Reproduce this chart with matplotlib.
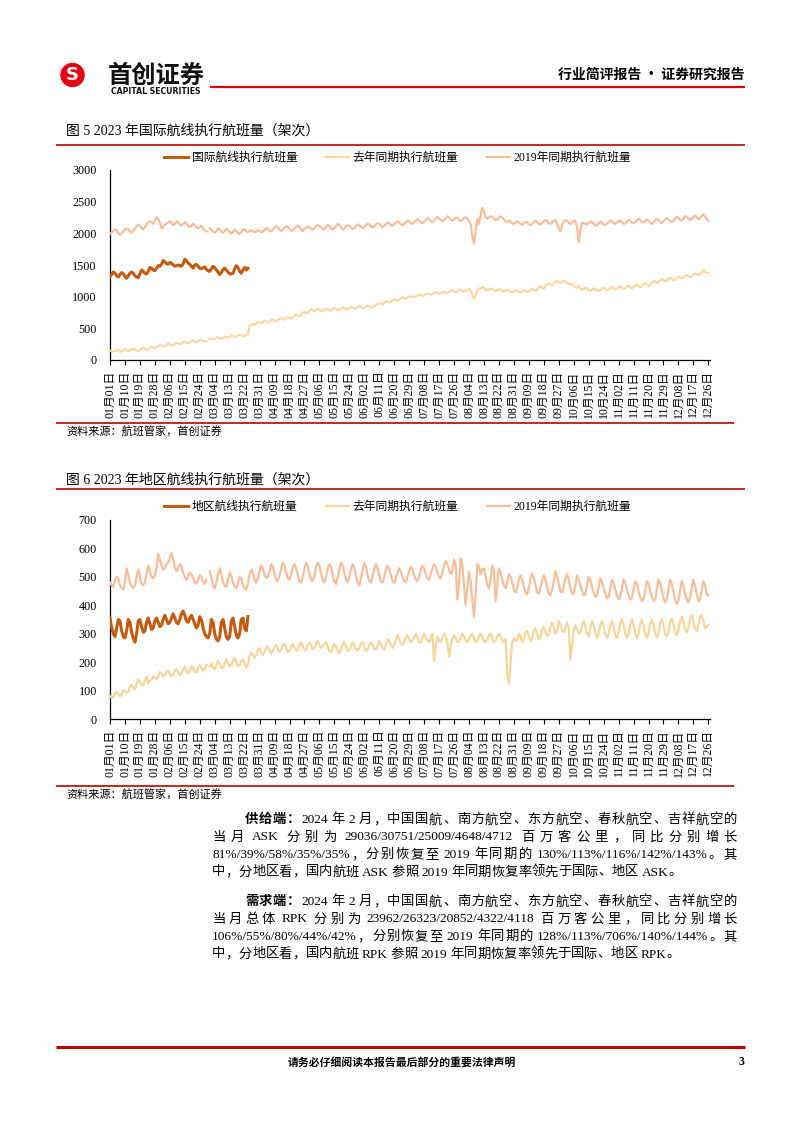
import numpy as np
import matplotlib
matplotlib.use("Agg")
import matplotlib.pyplot as plt
from matplotlib.lines import Line2D
from matplotlib.patches import Ellipse

nan = np.nan

# ---------------- DATA ----------------
TICK_LABELS = ['01月01日', '01月10日', '01月19日', '01月28日', '02月06日', '02月15日', '02月24日',
               '03月04日', '03月13日', '03月22日', '03月31日', '04月09日', '04月18日', '04月27日',
               '05月06日', '05月15日', '05月24日', '06月02日', '06月11日', '06月20日', '06月29日',
               '07月08日', '07月17日', '07月26日', '08月04日', '08月13日', '08月22日', '08月31日',
               '09月09日', '09月18日', '09月27日', '10月06日', '10月15日', '10月24日', '11月02日',
               '11月11日', '11月20日', '11月29日', '12月08日', '12月17日', '12月26日']
TICK_STEP_DAYS = 9

SERIES_NAMES_1 = ['国际航线执行航班量', '去年同期执行航班量', '2019年同期执行航班量']
SERIES_NAMES_2 = ['地区航线执行航班量', '去年同期执行航班量', '2019年同期执行航班量']

intl_current = [
    1320, 1350, 1390, 1370, 1330, 1310, 1350,
    1380, 1360, 1320, 1290, 1330, 1370, 1390,
    1370, 1330, 1310, 1300, 1360, 1420, 1400,
    1370, 1360, 1400, 1460, 1450, 1420, 1410,
    1450, 1490, 1480, 1510, 1570, 1550, 1520,
    1510, 1540, 1530, 1500, 1480, 1490, 1500,
    1490, 1480, 1520, 1590, 1570, 1530, 1510,
    1480, 1450, 1500, 1510, 1480, 1450, 1440,
    1460, 1470, 1430, 1410, 1400, 1440, 1480,
    1460, 1420, 1390, 1350, 1380, 1430, 1450,
    1420, 1390, 1360, 1360, 1370, 1440, 1490,
    1460, 1400, 1370, 1420, 1460, 1420, 1450]

intl_last_year = [
    150, 140, 130, 140, 160, 150, 130,
    140, 160, 170, 150, 140, 150, 170,
    180, 170, 150, 140, 160, 180, 190,
    180, 160, 170, 190, 210, 200, 190,
    200, 220, 240, 230, 210, 220, 240,
    260, 250, 230, 240, 260, 270, 260,
    250, 260, 280, 290, 270, 260, 280,
    300, 310, 290, 280, 290, 310, 320,
    300, 290, 300, nan, 330, 340, 320,
    330, 350, 360, 340, 330, 350, 370,
    360, 350, 370, 390, 380, 360, 370,
    390, 400, 390, 370, 380, 400, 410,
    540, 560, 570, 550, 580, 600, 590,
    580, 600, 620, 610, 590, 610, 630,
    640, 620, 610, 630, 650, 660, 640,
    640, 660, 680, 670, 650, 670, 700,
    720, 700, 690, 720, 750, 760, 740,
    750, 780, 800, 790, 770, 790, 810,
    800, 780, 770, 790, 810, 800, 780,
    780, 800, 820, 810, 790, 790, 810,
    830, 820, 800, 800, 820, 840, 830,
    810, 810, 830, 850, 840, 820, 820,
    840, 860, 850, 830, 830, 850, 870,
    880, 900, 890, 880, 900, 930, 920,
    910, 920, 940, 960, 950, 940, 950,
    970, 990, 980, 970, 980, 1000, 1010,
    1000, 990, 1000, 1020, 1030, 1020, 1010,
    1020, 1040, 1050, 1040, 1030, 1040, 1060,
    1070, 1060, 1040, 1050, 1070, 1080, 1070,
    1060, 1070, 1090, 1100, 1080, 1070, 1080,
    1100, 1110, 1090, 1080, 1090, 1110, 1120,
    1100, 1040, 960, 1020, 1100, 1130, 1120,
    1150, 1140, 1110, 1100, 1110, 1130, 1120,
    1100, 1090, 1100, 1120, 1110, 1090, 1080,
    1090, 1110, 1100, 1080, 1070, 1080, 1100,
    1090, 1070, 1060, 1080, 1100, 1090, 1070,
    1080, 1110, 1130, 1110, 1090, 1110, 1150,
    1160, 1140, 1130, 1160, 1200, 1210, 1190,
    1180, 1210, 1240, 1250, 1230, 1220, 1240,
    1250, 1240, 1220, 1200, 1190, 1200, 1170,
    1150, 1140, 1160, 1130, 1110, 1120, 1140,
    1130, 1100, 1090, 1110, 1130, 1120, 1100,
    1090, 1110, 1130, 1140, 1120, 1100, 1110,
    1140, 1150, 1130, 1110, 1120, 1150, 1160,
    1140, 1120, 1130, 1160, 1170, 1150, 1130,
    1150, 1180, 1190, 1170, 1150, 1170, 1200,
    1210, 1190, 1170, 1180, 1220, 1250, 1240,
    1220, 1230, 1260, 1280, 1260, 1240, 1250,
    1280, 1300, 1280, 1260, 1270, 1300, 1320,
    1300, 1290, 1300, 1330, 1340, 1320, 1310,
    1320, 1350, 1370, 1350, 1340, 1360, 1380,
    1420, 1390, 1370, 1380]

intl_2019 = [
    1990, 2010, 2040, 2060, 2050, 2000, 1980,
    2000, 2030, 2060, 2080, 2070, 2030, 2010,
    2040, 2080, 2110, 2140, 2120, 2080, 2060,
    2100, 2140, 2170, 2190, 2180, 2150, 2200,
    2260, 2230, 2170, 2080, 2100, 2140, 2150,
    2170, 2190, 2160, 2130, 2150, 2190, 2170,
    2140, 2120, 2150, 2180, 2160, 2110, 2100,
    2120, 2150, 2130, 2090, 2080, 2100, 2120,
    2080, 2050, 2030, nan, 2080, 2060, 2030,
    2010, 2040, 2080, 2060, 2030, 2010, 2030,
    2070, 2050, 2020, 2000, 2020, 2060, 2040,
    2010, 1990, 2020, 2070, 2060, 2030, 2020,
    2040, 2050, 2030, 2020, 2030, 2050, 2040,
    2020, 2030, 2060, 2080, 2070, 2040, 2030,
    2060, 2090, 2110, 2090, 2060, 2040, 2060,
    2090, 2110, 2100, 2070, 2040, 2050, 2080,
    2100, 2120, 2100, 2060, 2040, 2070, 2090,
    2110, 2100, 2070, 2060, 2080, 2110, 2130,
    2120, 2090, 2060, 2070, 2100, 2130, 2120,
    2080, 2060, 2080, 2110, 2150, 2130, 2100,
    2060, 2070, 2110, 2130, 2120, 2090, 2070,
    2080, 2110, 2140, 2130, 2100, 2080, 2100,
    2130, 2150, 2140, 2110, 2090, 2110, 2140,
    2160, 2150, 2120, 2100, 2120, 2150, 2170,
    2160, 2130, 2120, 2140, 2170, 2190, 2170,
    2140, 2130, 2150, 2180, 2200, 2190, 2160,
    2150, 2170, 2200, 2220, 2200, 2170, 2160,
    2180, 2210, 2240, 2220, 2190, 2180, 2200,
    2230, 2260, 2240, 2210, 2190, 2210, 2240,
    2270, 2250, 2220, 2200, 2220, 2250, 2240,
    2210, 2190, 2210, 2240, 2260, 2230, 2200,
    2150, 1950, 1840, 2050, 2230, 2150, 2300,
    2400, 2330, 2260, 2230, 2250, 2270, 2260,
    2230, 2210, 2220, 2250, 2270, 2250, 2220,
    2190, 2180, 2200, 2190, 2160, 2150, 2170,
    2190, 2170, 2150, 2140, 2160, 2180, 2170,
    2140, 2130, 2150, 2180, 2200, 2180, 2150,
    2140, 2160, 2190, 2210, 2190, 2160, 2150,
    2170, 2200, 2210, 2150, 2080, 2030, 2130,
    2190, 2210, 2200, 2170, 2150, 2170, 2200,
    2190, 2100, 1860, 2050, 2160, 2170, 2150,
    2140, 2160, 2190, 2180, 2150, 2120, 2130,
    2160, 2180, 2170, 2140, 2130, 2150, 2180,
    2200, 2190, 2160, 2150, 2170, 2190, 2200,
    2180, 2150, 2160, 2190, 2210, 2200, 2170,
    2160, 2180, 2210, 2230, 2210, 2180, 2170,
    2190, 2220, 2200, 2170, 2150, 2170, 2210,
    2230, 2210, 2180, 2160, 2190, 2220, 2240,
    2220, 2190, 2180, 2200, 2240, 2260, 2240,
    2210, 2200, 2230, 2270, 2260, 2230, 2210,
    2230, 2260, 2280, 2250, 2220, 2240, 2280,
    2300, 2260, 2230, 2200]

reg_current = [
    355, 320, 300, 290, 320, 350, 345,
    310, 290, 285, 310, 350, 340, 305,
    285, 270, 300, 345, 350, 325, 305,
    310, 340, 355, 335, 315, 320, 345,
    355, 340, 325, 330, 350, 365, 350,
    335, 340, 355, 370, 355, 340, 335,
    350, 370, 380, 365, 345, 340, 355,
    365, 350, 335, 320, 330, 360, 350,
    320, 300, 290, 285, 300, 350, 340,
    300, 280, 275, 290, 340, 350, 320,
    290, 280, 290, 345, 355, 325, 295,
    285, 300, 350, 355, 320, 310, 360]

reg_last_year = [
    80, 75, 78, 90, 95, 88, 80,
    85, 100, 98, 92, 95, 115, 120,
    110, 105, 125, 140, 130, 120, 120,
    135, 150, 125, 135, 140, 150, 145,
    140, 150, 165, 160, 150, 155, 165,
    170, 160, 150, 155, 170, 175, 165,
    155, 160, 175, 185, 170, 160, 170,
    185, 180, 165, 165, 180, 190, 180,
    170, 175, 190, nan, 185, 195, 180,
    175, 190, 205, 195, 180, 180, 195,
    210, 195, 185, 190, 205, 215, 200,
    185, 190, 205, 210, 195, 180, 195,
    220, 235, 225, 215, 225, 245, 250,
    235, 225, 235, 250, 255, 240, 230,
    240, 255, 260, 245, 235, 245, 260,
    265, 250, 235, 240, 255, 265, 250,
    240, 245, 260, 270, 255, 240, 245,
    260, 270, 260, 245, 250, 265, 275,
    260, 250, 255, 265, 270, 255, 240,
    235, 250, 265, 255, 240, 230, 245,
    265, 270, 255, 240, 240, 255, 270,
    260, 245, 240, 250, 265, 270, 255,
    240, 245, 260, 270, 260, 245, 245,
    260, 275, 265, 250, 245, 260, 280,
    275, 260, 250, 260, 280, 295, 280,
    265, 260, 270, 290, 295, 280, 270,
    275, 290, 300, 285, 270, 270, 285,
    300, 290, 275, 270, 285, 300, 205,
    260, 290, 275, 270, 285, 300, 290,
    270, 220, 260, 280, 295, 285, 270,
    270, 285, 300, 290, 275, 270, 280,
    295, 300, 285, 270, 275, 290, 300,
    290, 275, 270, 280, 295, 300, 285,
    270, 275, 290, 300, 290, 275, 270,
    280, 150, 125, 200, 270, 285, 275,
    280, 300, 290, 270, 280, 305, 310,
    290, 275, 285, 310, 320, 300, 280,
    290, 315, 325, 305, 290, 300, 325,
    340, 320, 300, 310, 345, 330, 310,
    305, 320, 340, 320, 210, 260, 310,
    330, 315, 300, 305, 330, 345, 325,
    300, 290, 320, 345, 330, 305, 285,
    300, 330, 345, 325, 300, 285, 300,
    330, 345, 325, 295, 285, 305, 335,
    350, 330, 300, 285, 300, 335, 350,
    330, 300, 285, 300, 335, 350, 330,
    300, 285, 300, 335, 350, 330, 300,
    285, 300, 340, 350, 330, 300, 290,
    305, 340, 355, 335, 305, 295, 315,
    345, 360, 340, 315, 305, 320, 350,
    365, 345, 320, 310, 330, 360, 365,
    345, 320, 325, 330]

reg_2019 = [
    480, 470, 465, 490, 500, 495, 470,
    460, 455, 480, 530, 510, 480, 465,
    460, 470, 500, 525, 500, 475, 470,
    480, 510, 540, 520, 500, 495, 505,
    530, 580, 560, 540, 525, 530, 545,
    550, 570, 585, 560, 535, 520, 530,
    545, 540, 515, 500, 490, 500, 515,
    510, 495, 480, 475, 490, 505, 500,
    485, 475, 490, nan, 520, 500, 470,
    460, 480, 510, 530, 510, 480, 470,
    465, 490, 515, 505, 480, 465, 460,
    480, 500, 495, 470, 460, 455, 475,
    510, 525, 515, 490, 480, 495, 520,
    540, 530, 505, 495, 500, 520, 545,
    535, 510, 490, 485, 505, 530, 550,
    540, 515, 495, 490, 510, 535, 545,
    530, 505, 485, 480, 500, 530, 550,
    540, 510, 490, 485, 505, 535, 550,
    540, 510, 490, 480, 500, 530, 545,
    535, 505, 485, 475, 500, 525, 550,
    540, 515, 490, 480, 500, 530, 545,
    530, 505, 480, 470, 495, 525, 550,
    535, 505, 485, 480, 500, 530, 545,
    530, 505, 485, 480, 500, 525, 540,
    530, 505, 485, 478, 495, 515, 530,
    520, 500, 485, 480, 500, 520, 535,
    525, 505, 490, 485, 500, 525, 540,
    530, 510, 495, 490, 510, 530, 545,
    535, 515, 500, 495, 515, 540, 555,
    545, 525, 510, 520, 560, 540, 420,
    480, 565, 540, 470, 400, 460, 520,
    480, 420, 360, 440, 545, 535, 510,
    525, 530, 500, 470, 460, 490, 540,
    520, 415, 470, 530, 515, 490, 470,
    460, 480, 510, 500, 480, 455, 445,
    460, 490, 505, 490, 465, 445, 440,
    460, 495, 510, 495, 470, 445, 440,
    460, 490, 505, 490, 465, 440, 435,
    455, 485, 520, 500, 475, 450, 445,
    465, 495, 510, 490, 460, 440, 440,
    470, 505, 490, 470, 450, 435, 440,
    470, 500, 490, 465, 445, 430, 435,
    465, 495, 485, 460, 440, 425, 430,
    460, 490, 480, 455, 435, 420, 430,
    460, 490, 480, 455, 435, 420, 425,
    455, 485, 475, 450, 430, 415, 420,
    450, 485, 475, 450, 430, 415, 420,
    455, 490, 480, 450, 425, 410, 420,
    455, 490, 475, 445, 420, 405, 415,
    450, 485, 470, 440, 420, 410, 425,
    460, 490, 470, 440, 415, 420, 455,
    485, 470, 440, 435]

# ---------------- STYLE ----------------
W, H = 802, 1133
SERIF = ['Liberation Serif', 'Noto Sans CJK SC', 'DejaVu Sans']
CJK = ['Noto Sans CJK SC', 'DejaVu Sans']
plt.rcParams['font.family'] = SERIF

C_CUR = '#C55A11'
C_LAST1 = '#F9D8A4'
C_LAST2 = '#F6D69C'
C_2019 = '#F6BE9C'
RED = '#C00000'

fig = plt.figure(figsize=(W / 100, H / 100), dpi=100)
renderer = fig.canvas.get_renderer()


def fx(x):
    return x / W


def fy(y):
    return 1 - y / H


def hline(x0, x1, y, lw, color=RED):
    fig.add_artist(Line2D([fx(x0), fx(x1)], [fy(y), fy(y)], transform=fig.transFigure,
                          lw=lw, color=color, solid_capstyle='butt'))


# ---------------- HEADER ----------------
fig.add_artist(Ellipse((fx(72.5), fy(75)), 23 / W, 23 / H, transform=fig.transFigure,
                       color='#E60012', zorder=3))
fig.text(fx(72.5), fy(75.5), 'S', color='white', fontsize=13, fontweight='bold',
         family=['DejaVu Sans'], ha='center', va='center', zorder=4)
fig.text(fx(156), fy(75.5), '首创证券', fontsize=17.5, fontweight='bold', family=CJK,
         ha='center', va='center', color='#111111')
fig.text(fx(156), fy(91.5), 'CAPITAL SECURITIES', fontsize=5.6, fontweight='bold',
         family=['DejaVu Sans'], ha='center', va='center', color='#111111')
hline(210, 745, 86.5, 1.6, '#E00000')
fig.text(fx(745), fy(75), '行业简评报告 · 证券研究报告', fontsize=10, fontweight='bold',
         family=CJK, ha='right', va='center')


# ---------------- CHARTS ----------------
def make_chart(top_px, bottom_px, ymax, ystep, cur, last, y19, names, c_last,
               title, title_y, title_line_y, legend_y, bottom_line_y, src_y):
    ax = fig.add_axes([fx(110), fy(bottom_px), 600 / W, (bottom_px - top_px) / H])
    l1, = ax.plot(np.arange(len(cur)), cur, color=C_CUR, lw=2.2, zorder=4,
                  solid_joinstyle='round')
    l2, = ax.plot(np.arange(len(last)), last, color=c_last, lw=1.6, zorder=3,
                  solid_joinstyle='round')
    l3, = ax.plot(np.arange(len(y19)), y19, color=C_2019, lw=1.6, zorder=3,
                  solid_joinstyle='round')
    ax.set_xlim(0, 361)
    ax.set_ylim(0, ymax)
    ax.set_yticks(np.arange(0, ymax + 1, ystep))
    ax.set_xticks(np.arange(len(TICK_LABELS)) * TICK_STEP_DAYS)
    ax.set_xticklabels(TICK_LABELS, rotation=90, fontsize=8.5, family=SERIF)
    for lab in ax.get_yticklabels():
        lab.set_fontsize(8.7)
    ax.tick_params(axis='y', length=0, pad=9.5)
    ax.tick_params(axis='x', direction='out', length=3.5, width=0.8, pad=4)
    for s in ['top', 'right']:
        ax.spines[s].set_visible(False)
    for s in ['left', 'bottom']:
        ax.spines[s].set_linewidth(0.9)
    ax.patch.set_alpha(0)
    fig.legend([l1, l2, l3], names, loc='center', bbox_to_anchor=(fx(398), fy(legend_y)),
               ncol=3, frameon=False, fontsize=8.5, handlelength=2.0, handletextpad=0.3,
               columnspacing=2.4, borderaxespad=0, borderpad=0)
    fig.text(fx(66), fy(title_y), title, fontsize=10, family=SERIF, ha='left', va='center')
    hline(56, 745, title_line_y, 1.2)
    hline(56, 734, bottom_line_y, 1.2)
    fig.text(fx(66), fy(src_y), '资料来源：航班管家，首创证券', fontsize=8, family=SERIF,
             ha='left', va='center', style='italic')
    return ax


make_chart(170, 360, 3000, 500, intl_current, intl_last_year, intl_2019, SERIES_NAMES_1,
           C_LAST1, '图 5 2023 年国际航线执行航班量（架次）', 131, 145, 158, 422.5, 432)
make_chart(520, 719, 700, 100, reg_current, reg_last_year, reg_2019, SERIES_NAMES_2,
           C_LAST2, '图 6 2023 年地区航线执行航班量（架次）', 480, 489, 507, 785.5, 795)


# ---------------- BODY TEXT ----------------
def tokenize(segs):
    toks = []
    pending = False
    for text, bold in segs:
        i = 0
        while i < len(text):
            c = text[i]
            if c == ' ':
                pending = True
                i += 1
                continue
            if ord(c) < 128:
                j = i
                while j < len(text) and ord(text[j]) < 128 and text[j] != ' ':
                    j += 1
                tok = text[i:j]
                i = j
            else:
                tok = c
                i += 1
            toks.append((tok, bold, pending))
            pending = False
    return toks


def draw_line(segs, x0, x1, y, justify, size=9.6):
    toks = tokenize(segs)
    objs, widths = [], []
    for tok, bold, sp in toks:
        t = fig.text(0, 0, tok, fontsize=size, fontweight='bold' if bold else 'normal',
                     family=SERIF, ha='left', va='center')
        widths.append(t.get_window_extent(renderer).width)
        objs.append(t)
    gaps = [3.0 if sp else 0.0 for (_, _, sp) in toks]
    gaps[0] = 0.0
    total = sum(widths) + sum(gaps)
    extra = (x1 - x0 - total) / (len(toks) - 1) if justify else 0.0
    x = x0
    for k, t in enumerate(objs):
        if k > 0:
            x += gaps[k] + extra
        t.set_position((fx(x), fy(y)))
        x += widths[k]


XL, XR, XI = 212, 737, 245
P1 = [
    ([('供给端：', True), ('2024 年 2 月，中国国航、南方航空、东方航空、春秋航空、吉祥航空的', False)], XI, True),
    ([('当月 ASK 分别为 29036/30751/25009/4648/4712 百万客公里，同比分别增长', False)], XL, True),
    ([('81%/39%/58%/35%/35%，分别恢复至 2019 年同期的 130%/113%/116%/142%/143%。其', False)], XL, True),
    ([('中，分地区看，国内航班 ASK 参照 2019 年同期恢复率领先于国际、地区 ASK。', False)], XL, False),
]
P2 = [
    ([('需求端：', True), ('2024 年 2 月，中国国航、南方航空、东方航空、春秋航空、吉祥航空的', False)], XI, True),
    ([('当月总体 RPK 分别为 23962/26323/20852/4322/4118 百万客公里，同比分别增长', False)], XL, True),
    ([('106%/55%/80%/44%/42%，分别恢复至 2019 年同期的 128%/113%/706%/140%/144%。其', False)], XL, True),
    ([('中，分地区看，国内航班 RPK 参照 2019 年同期恢复率领先于国际、地区 RPK。', False)], XL, False),
]
for (segs, x0, just), y in zip(P1, [820, 837.5, 855, 872.5]):
    draw_line(segs, x0, XR, y, just)
for (segs, x0, just), y in zip(P2, [902, 919.5, 937, 954.5]):
    draw_line(segs, x0, XR, y, just)

# ---------------- FOOTER ----------------
hline(56, 745, 1046.5, 2.2)
fig.text(fx(402), fy(1062), '请务必仔细阅读本报告最后部分的重要法律声明', fontsize=7.8,
         fontweight='bold', family=CJK, ha='center', va='center')
fig.text(fx(744), fy(1062), '3', fontsize=8.5, fontweight='bold', family=SERIF,
         ha='right', va='center')

fig.savefig('out.png', dpi=100)
